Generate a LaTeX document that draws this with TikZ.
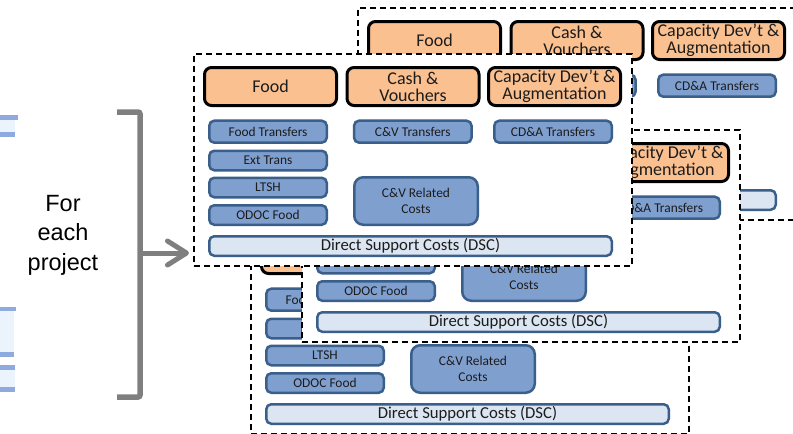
\documentclass[tikz,border=0pt]{standalone}
\usepackage{fontspec}
\setmainfont{Liberation Sans}
\newfontfamily\calib{Carlito}
\usetikzlibrary{arrows.meta}
\definecolor{hdrfill}{HTML}{FAC090}
\definecolor{bxfill}{HTML}{7F9FCF}
\definecolor{bxline}{HTML}{3A5F8B}
\definecolor{dscfill}{HTML}{DCE6F2}
\definecolor{brkgray}{HTML}{7F7F7F}
\definecolor{fragblue}{HTML}{8FAADF}
\definecolor{fraglight}{HTML}{EBF3FD}
\definecolor{txt}{HTML}{1C1C1C}

% one project card: dashed frame, three activity headers and their cost boxes
\newcommand\drawcard[3]{%
  \begin{scope}[shift={(#2,#3)}]
    \node[cardframe] (#1) at (0,0) {};
    \node[hdrbox] (#1food) at (77.5,33.5) {Food};
    \node[hdrbox] (#1cash) at (220,33.5) {Cash \&\\Vouchers};
    \node[hdrbox] (#1capa) at (361.5,33.5) {Capacity Dev’t \&\\Augmentation};
    \node[costbox, minimum height=22pt] (#1ft) at (75,78.7) {Food Transfers};
    \node[costbox] (#1et) at (75,107.5) {Ext Trans};
    \node[costbox] (#1ltsh) at (75,134.5) {LTSH};
    \node[costbox] (#1odoc) at (75,162) {ODOC Food};
    \node[costbox, minimum height=22pt] (#1cvt) at (219.8,78.7) {C\&V Transfers};
    \node[costbox, rounded corners=9pt, minimum width=123.5pt, minimum height=47.5pt] (#1cvr) at (223,148) {C\&V Related\\Costs};
    \node[costbox, minimum height=22pt] (#1cda) at (360,78.7) {CD\&A Transfers};
    \node[dscbox] (#1dsc) at (217.5,193) {Direct Support Costs (DSC)};
  \end{scope}}

\begin{document}
\begin{tikzpicture}[x=1pt,y=-1pt,
  cardframe/.style={draw=black, fill=white, line width=1.5pt, dash pattern=on 6pt off 4pt,
    minimum width=438pt, minimum height=212pt, anchor=north west, inner sep=0pt},
  hdrbox/.style={draw=black, fill=hdrfill, line width=3pt, rounded corners=7pt,
    minimum width=132pt, minimum height=38pt, inner sep=0pt, align=center, text=txt,
    font=\calib\fontsize{18}{16.8}\selectfont},
  costbox/.style={draw=bxline, fill=bxfill, line width=2.5pt, rounded corners=5pt,
    minimum width=117.5pt, minimum height=19.5pt, inner sep=0pt, align=center, text=txt,
    font=\calib\fontsize{13.4}{15.5}\selectfont},
  dscbox/.style={draw=bxline, fill=dscfill, line width=2.5pt, rounded corners=5pt,
    minimum width=402.5pt, minimum height=19.5pt, inner sep=0pt, text=txt,
    font=\calib\fontsize{16.7}{18}\selectfont},
  bracket/.style={draw=brkgray, line width=5.5pt, rounded corners=2pt},
  pointer/.style={draw=brkgray, line width=5pt,
    -{Straight Barb[length=19pt,width=24pt,round]}},
  ]
\useasboundingbox (0,0) rectangle (793,434);
\clip (0,0) rectangle (793,434);

% pieces of light blue bars at the left border
\fill[fragblue] (0,115) rectangle (18,120);
\fill[fraglight] (0,120) rectangle (15,131.5);
\fill[fragblue] (0,131.5) rectangle (15,136.5);
\fill[fragblue] (0,306.5) rectangle (16,311);
\fill[fraglight] (0,311) rectangle (14,352);
\fill[fragblue] (0,352) rectangle (14,356.5);
\fill[fragblue] (0,365) rectangle (15,370);
\fill[fraglight] (0,370) rectangle (15,387);
\fill[fragblue] (0,387) rectangle (15,391.5);

% stacked project cards, back to front
\drawcard{pa}{357}{7}
\drawcard{pd}{250}{221}
\drawcard{pb}{301}{129}
\drawcard{pc}{193}{53}

% label, bracket and arrow
\node[align=center, text=black, font=\fontsize{23.5}{29.5}\selectfont] (lbl) at (63,235) {For\\each\\project};
\coordinate (btop) at (117,112);
\coordinate (bbot) at (117,397);
\coordinate (bmid) at (140,253);
\draw[bracket] (btop) -- (btop -| bmid) -- (bbot -| bmid) -- (bbot);
\draw[pointer, shorten >=4pt] (bmid) -- (bmid -| pc.west);
\end{tikzpicture}
\end{document}
